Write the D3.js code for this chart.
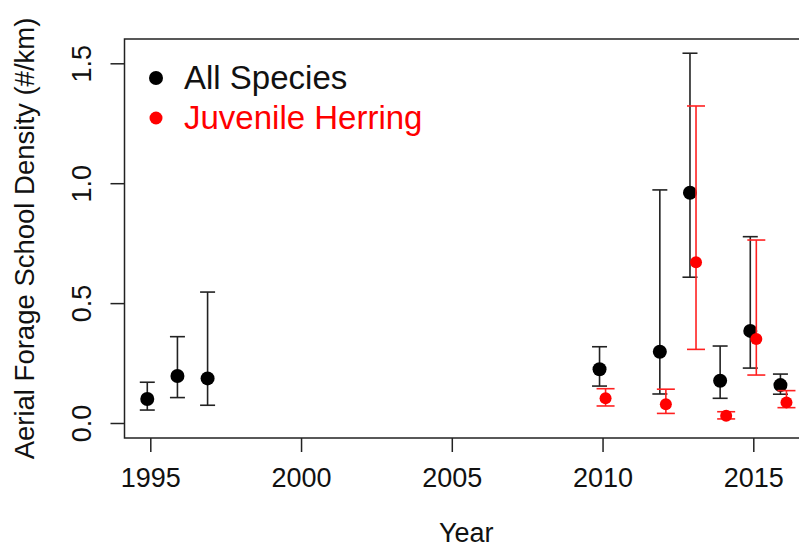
<!DOCTYPE html>
<html><head><meta charset="utf-8">
<script src="https://cdn.jsdelivr.net/npm/d3@7"></script>
<style>
html,body{margin:0;padding:0;background:#fff;}
svg{display:block;font-family:"Liberation Sans",Arial,sans-serif;}
</style></head>
<body>
<svg id="c" width="799" height="548"></svg>
<script>
// Data
const allYears = [1995, 1996, 1997, 2010, 2012, 2013, 2014, 2015, 2016];
const allMean  = [0.100, 0.196, 0.186, 0.224, 0.297, 0.960, 0.176, 0.384, 0.158];
const allLo    = [0.054, 0.106, 0.074, 0.154, 0.121, 0.608, 0.103, 0.229, 0.120];
const allHi    = [0.170, 0.360, 0.546, 0.318, 0.972, 1.542, 0.321, 0.777, 0.204];

const herYears = [2010, 2012, 2013, 2014, 2015, 2016];
const herMean  = [0.103, 0.078, 0.670, 0.030, 0.350, 0.086];
const herLo    = [0.071, 0.040, 0.307, 0.017, 0.200, 0.064];
const herHi    = [0.143, 0.141, 1.322, 0.047, 0.763, 0.135];

const xTicks = [1995, 2000, 2005, 2010, 2015];
const yTicks = [0.0, 0.5, 1.0, 1.5];
const seriesNames = ["All Species", "Juvenile Herring"];
const seriesColors = ["#000000", "#ff0000"];
const xLabel = "Year";
const yLabel = "Aerial Forage School Density (#/km)";

const svg = d3.select("#c");
const box = {left: 124.5, right: 808, top: 39, bottom: 438};
const x = d3.scaleLinear().domain([1995, 2015]).range([150.3, 753.3]);
const y = d3.scaleLinear().domain([0, 1.5]).range([423, 63.3]);
const dodge = 0.1;
const axisCol = "#222";

// plot box
svg.append("rect").attr("x", box.left).attr("y", box.top)
  .attr("width", box.right - box.left).attr("height", box.bottom - box.top)
  .attr("fill", "none").attr("stroke", axisCol).attr("stroke-width", 1.5);

// x axis
const xAxis = d3.axisBottom(x).tickValues(xTicks).tickSize(14).tickPadding(16)
  .tickFormat(d3.format("d"));
const gx = svg.append("g").attr("transform", `translate(0,${box.bottom})`).call(xAxis);
gx.select(".domain").remove();
gx.selectAll("line").attr("stroke", axisCol).attr("stroke-width", 1.5);
gx.selectAll("text").attr("font-size", 27).attr("fill", "#111")
  .attr("font-family", "Liberation Sans, Arial, sans-serif");

// y axis
const yAxis = d3.axisLeft(y).tickValues(yTicks).tickSize(14).tickFormat(d3.format(".1f"));
const gy = svg.append("g").attr("transform", `translate(${box.left},0)`).call(yAxis);
gy.select(".domain").remove();
gy.selectAll("line").attr("stroke", axisCol).attr("stroke-width", 1.5);
gy.selectAll("text").remove();
gy.selectAll(".tick").append("text")
  .attr("transform", "translate(-34,0) rotate(-90)")
  .attr("text-anchor", "middle").attr("fill", "#111")
  .attr("font-size", 27)
  .attr("font-family", "Liberation Sans, Arial, sans-serif")
  .text(d => d3.format(".1f")(d));

// axis titles
svg.append("text").attr("x", (box.left + box.right) / 2).attr("y", 542)
  .attr("text-anchor", "middle").attr("font-size", 27).attr("fill", "#111").text(xLabel);
svg.append("text").attr("transform", `translate(34,${(box.top + box.bottom) / 2}) rotate(-90)`)
  .attr("text-anchor", "middle").attr("font-size", 27.5).attr("fill", "#111").text(yLabel);

function drawSeries(years, mean, lo, hi, off, color, lineCol, capHalf, r) {
  const g = svg.append("g");
  const data = years.map((yr, i) => ({yr, m: mean[i], lo: lo[i], hi: hi[i]}));
  const gx = d => x(d.yr + off);
  g.selectAll("line.v").data(data).join("line")
    .attr("x1", gx).attr("x2", gx).attr("y1", d => y(d.lo)).attr("y2", d => y(d.hi))
    .attr("stroke", lineCol).attr("stroke-width", 1.6);
  g.selectAll("line.t").data(data).join("line")
    .attr("x1", d => gx(d) - capHalf).attr("x2", d => gx(d) + capHalf)
    .attr("y1", d => y(d.hi)).attr("y2", d => y(d.hi))
    .attr("stroke", lineCol).attr("stroke-width", 1.6);
  g.selectAll("line.b").data(data).join("line")
    .attr("x1", d => gx(d) - capHalf).attr("x2", d => gx(d) + capHalf)
    .attr("y1", d => y(d.lo)).attr("y2", d => y(d.lo))
    .attr("stroke", lineCol).attr("stroke-width", 1.6);
  g.selectAll("circle").data(data).join("circle")
    .attr("cx", gx).attr("cy", d => y(d.m)).attr("r", r).attr("fill", color);
}

drawSeries(allYears, allMean, allLo, allHi, -dodge, seriesColors[0], "#222", 7.5, 7);
drawSeries(herYears, herMean, herLo, herHi, dodge, seriesColors[1], "#ff2020", 9, 6);

// legend
const lg = svg.append("g");
seriesNames.forEach((name, i) => {
  const yy = 78 + i * 40;
  lg.append("circle").attr("cx", 156).attr("cy", yy).attr("r", i === 0 ? 7 : 6.5).attr("fill", seriesColors[i]);
  lg.append("text").attr("x", 184).attr("y", yy + 11).attr("font-size", 33)
    .attr("fill", i === 0 ? "#111" : seriesColors[i]).text(name);
});
</script>
</body></html>
